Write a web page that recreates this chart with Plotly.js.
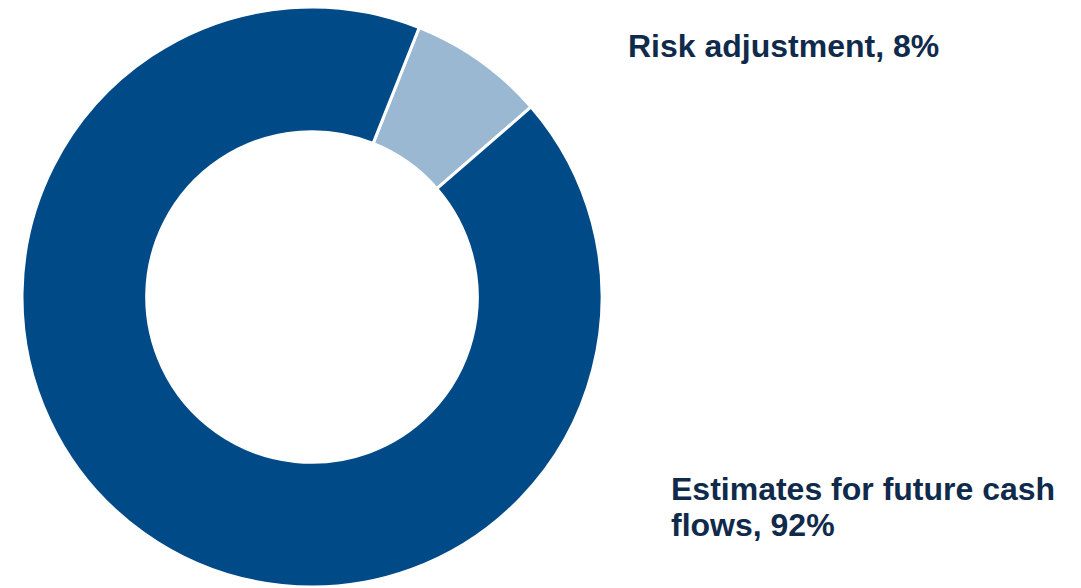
<!DOCTYPE html>
<html>
<head>
<meta charset="utf-8">
<script src="https://cdn.plot.ly/plotly-3.0.1.min.js"></script>
<style>html,body{margin:0;padding:0;background:#fff;}#chart{width:1081px;height:588px;}</style>
</head>
<body>
<div id="chart"></div>
<script>
const categories = ["Risk adjustment", "Estimates for future cash flows"];
const shares = [7.6, 92.4];
const labelLines = [["Risk adjustment, 8%"], ["Estimates for future cash", "flows, 92%"]];
const colors = ["#9bb8d3", "#004a87"];

const W = 1081, H = 588;
const textColor = "#102a4c";
const fontFamily = "Liberation Sans, Arial, sans-serif";

const trace = {
  type: "pie",
  labels: categories,
  values: shares,
  hole: 0.57,
  sort: false,
  direction: "clockwise",
  rotation: 21.7,
  textinfo: "none",
  hoverinfo: "label+percent",
  marker: {colors: colors, line: {color: "#ffffff", width: 3}},
  domain: {x: [22 / W, 602 / W], y: [1 - 587 / H, 1 - 7 / H]},
  showlegend: false
};

const annPos = [
  [{x: 626, y: 46}],
  [{x: 669, y: 489}, {x: 669, y: 525}]
];
const annotations = [];
labelLines.forEach((lines, i) => {
  lines.forEach((t, j) => {
    annotations.push({
      text: "<b>" + t + "</b>",
      xref: "paper", yref: "paper",
      x: annPos[i][j].x / W, y: 1 - annPos[i][j].y / H,
      xanchor: "left", yanchor: "middle",
      showarrow: false,
      font: {family: fontFamily, size: 32, color: textColor}
    });
  });
});

Plotly.newPlot("chart", [trace], {
  width: W, height: H,
  margin: {l: 0, r: 0, t: 0, b: 0},
  paper_bgcolor: "#ffffff",
  annotations: annotations
}, {displayModeBar: false, staticPlot: true});
</script>
</body>
</html>
